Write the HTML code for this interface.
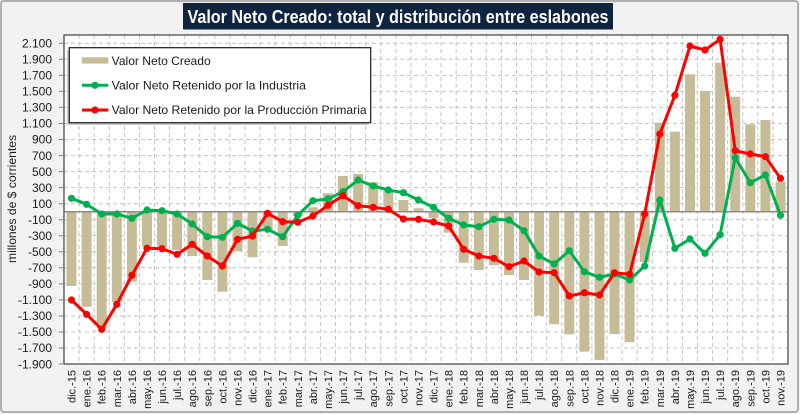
<!DOCTYPE html>
<html><head><meta charset="utf-8"><style>
html,body{margin:0;padding:0;background:#f2f2f2;}
svg{display:block;font-family:"Liberation Sans",sans-serif;}
</style></head><body>
<svg width="800" height="414" viewBox="0 0 800 414" xmlns="http://www.w3.org/2000/svg">
<rect x="1" y="1" width="797" height="411" rx="3" fill="#f2f2f2" stroke="#9a9a9a" stroke-width="1.5"/>
<!-- title -->
<rect x="183" y="3" width="430" height="26.5" fill="#0f243e"/>
<text x="398" y="23" text-anchor="middle" font-size="18" font-weight="bold" fill="#ffffff" textLength="421" lengthAdjust="spacingAndGlyphs">Valor Neto Creado: total y distribución entre eslabones</text>
<!-- plot area -->
<rect x="64" y="35" width="724" height="329" fill="#ffffff"/>
<path d="M64 43.3H788M64 59.3H788M64 75.4H788M64 91.4H788M64 107.4H788M64 123.5H788M64 139.5H788M64 155.6H788M64 171.6H788M64 187.6H788M64 203.7H788M64 219.7H788M64 235.8H788M64 251.8H788M64 267.8H788M64 283.9H788M64 299.9H788M64 316H788M64 332H788M64 348H788" stroke="#c4c4c4" stroke-width="1" stroke-dasharray="4,3" fill="none"/>
<path d="M79.08 35V364M94.17 35V364M109.25 35V364M124.33 35V364M139.42 35V364M154.5 35V364M169.58 35V364M184.66 35V364M199.75 35V364M214.83 35V364M229.91 35V364M245 35V364M260.08 35V364M275.16 35V364M290.25 35V364M305.33 35V364M320.41 35V364M335.49 35V364M350.58 35V364M365.66 35V364M380.74 35V364M395.83 35V364M410.91 35V364M425.99 35V364M441.08 35V364M456.16 35V364M471.24 35V364M486.32 35V364M501.41 35V364M516.49 35V364M531.57 35V364M546.66 35V364M561.74 35V364M576.82 35V364M591.91 35V364M606.99 35V364M622.07 35V364M637.15 35V364M652.24 35V364M667.32 35V364M682.4 35V364M697.49 35V364M712.57 35V364M727.65 35V364M742.74 35V364M757.82 35V364M772.9 35V364" stroke="#c4c4c4" stroke-width="1" stroke-dasharray="4,3" fill="none"/>
<!-- bars -->
<g fill="#c6bd98">
<rect x="66.5" y="211.7" width="10" height="74.3"/>
<rect x="81.6" y="211.7" width="10" height="95"/>
<rect x="96.7" y="211.7" width="10" height="116.3"/>
<rect x="111.8" y="211.7" width="10" height="90.3"/>
<rect x="126.9" y="211.7" width="10" height="70"/>
<rect x="142" y="211.7" width="10" height="34.8"/>
<rect x="157" y="211.7" width="10" height="35.3"/>
<rect x="172.1" y="211.7" width="10" height="38.3"/>
<rect x="187.2" y="211.7" width="10" height="44.3"/>
<rect x="202.3" y="211.7" width="10" height="68.3"/>
<rect x="217.4" y="211.7" width="10" height="80"/>
<rect x="232.5" y="211.7" width="10" height="39.3"/>
<rect x="247.5" y="211.7" width="10" height="45.6"/>
<rect x="262.6" y="211.7" width="10" height="18.3"/>
<rect x="277.7" y="211.7" width="10" height="34.3"/>
<rect x="292.8" y="211.7" width="10" height="4.3"/>
<rect x="307.9" y="207.3" width="10" height="4.4"/>
<rect x="323" y="193.3" width="10" height="18.4"/>
<rect x="338" y="176" width="10" height="35.7"/>
<rect x="353.1" y="174" width="10" height="37.7"/>
<rect x="368.2" y="182.3" width="10" height="29.4"/>
<rect x="383.3" y="191" width="10" height="20.7"/>
<rect x="398.4" y="200" width="10" height="11.7"/>
<rect x="413.5" y="208.3" width="10" height="3.4"/>
<rect x="428.5" y="211.7" width="10" height="6.6"/>
<rect x="443.6" y="211.7" width="10" height="21"/>
<rect x="458.7" y="211.7" width="10" height="51"/>
<rect x="473.8" y="211.7" width="10" height="58.3"/>
<rect x="488.9" y="211.7" width="10" height="53.6"/>
<rect x="504" y="211.7" width="10" height="63.3"/>
<rect x="519" y="211.7" width="10" height="68.3"/>
<rect x="534.1" y="211.7" width="10" height="104"/>
<rect x="549.2" y="211.7" width="10" height="112.6"/>
<rect x="564.3" y="211.7" width="10" height="122.6"/>
<rect x="579.4" y="211.7" width="10" height="140"/>
<rect x="594.5" y="211.7" width="10" height="148.3"/>
<rect x="609.5" y="211.7" width="10" height="122.3"/>
<rect x="624.6" y="211.7" width="10" height="130.6"/>
<rect x="639.7" y="211.7" width="10" height="50.3"/>
<rect x="654.8" y="122.7" width="10" height="89"/>
<rect x="669.9" y="131.7" width="10" height="80"/>
<rect x="685" y="74.3" width="10" height="137.4"/>
<rect x="700" y="91" width="10" height="120.7"/>
<rect x="715.1" y="62.7" width="10" height="149"/>
<rect x="730.2" y="96.7" width="10" height="115"/>
<rect x="745.3" y="124.3" width="10" height="87.4"/>
<rect x="760.4" y="120" width="10" height="91.7"/>
<rect x="775.5" y="181.7" width="10" height="30"/>
</g>
<path d="M64 211.7H788" stroke="#8c8c8c" stroke-width="1.5"/>
<rect x="64" y="35" width="724" height="329" fill="none" stroke="#404040" stroke-width="1.2"/>
<!-- y ticks -->
<path d="M59 43.3H64M59 59.3H64M59 75.4H64M59 91.4H64M59 107.4H64M59 123.5H64M59 139.5H64M59 155.6H64M59 171.6H64M59 187.6H64M59 203.7H64M59 219.7H64M59 235.8H64M59 251.8H64M59 267.8H64M59 283.9H64M59 299.9H64M59 316H64M59 332H64M59 348H64M59 364H64" stroke="#808080" stroke-width="1"/>
<!-- green line -->
<g stroke="#00b050" fill="#00b050">
<polyline fill="none" stroke-width="3" stroke-linejoin="round" points="71.5,198.3 86.6,204.3 101.7,214 116.8,214 131.9,218.3 147,210 162,210.7 177.1,214 192.2,224 207.3,236.7 222.4,237.3 237.5,223.3 252.5,231 267.6,229.3 282.7,236.7 297.8,215.3 312.9,200.7 328,199 343,191.7 358.1,180 373.2,186 388.3,190 403.4,192.7 418.5,200 433.5,207.3 448.6,218.3 463.7,225 478.8,226.7 493.9,219.3 509,220 524,230.7 539.1,256 554.2,264 569.3,250.7 584.4,271.7 599.5,277.3 614.5,274 629.6,280 644.7,266 659.8,200 674.9,248.3 690,239 705,253.3 720.1,234.7 735.2,157.7 750.3,182.7 765.4,175 780.5,215.3"/>
<g stroke="none">
<circle cx="71.5" cy="198.3" r="3.6"/><circle cx="86.6" cy="204.3" r="3.6"/><circle cx="101.7" cy="214" r="3.6"/><circle cx="116.8" cy="214" r="3.6"/><circle cx="131.9" cy="218.3" r="3.6"/><circle cx="147" cy="210" r="3.6"/><circle cx="162" cy="210.7" r="3.6"/><circle cx="177.1" cy="214" r="3.6"/><circle cx="192.2" cy="224" r="3.6"/><circle cx="207.3" cy="236.7" r="3.6"/><circle cx="222.4" cy="237.3" r="3.6"/><circle cx="237.5" cy="223.3" r="3.6"/><circle cx="252.5" cy="231" r="3.6"/><circle cx="267.6" cy="229.3" r="3.6"/><circle cx="282.7" cy="236.7" r="3.6"/><circle cx="297.8" cy="215.3" r="3.6"/><circle cx="312.9" cy="200.7" r="3.6"/><circle cx="328" cy="199" r="3.6"/><circle cx="343" cy="191.7" r="3.6"/><circle cx="358.1" cy="180" r="3.6"/><circle cx="373.2" cy="186" r="3.6"/><circle cx="388.3" cy="190" r="3.6"/><circle cx="403.4" cy="192.7" r="3.6"/><circle cx="418.5" cy="200" r="3.6"/><circle cx="433.5" cy="207.3" r="3.6"/><circle cx="448.6" cy="218.3" r="3.6"/><circle cx="463.7" cy="225" r="3.6"/><circle cx="478.8" cy="226.7" r="3.6"/><circle cx="493.9" cy="219.3" r="3.6"/><circle cx="509" cy="220" r="3.6"/><circle cx="524" cy="230.7" r="3.6"/><circle cx="539.1" cy="256" r="3.6"/><circle cx="554.2" cy="264" r="3.6"/><circle cx="569.3" cy="250.7" r="3.6"/><circle cx="584.4" cy="271.7" r="3.6"/><circle cx="599.5" cy="277.3" r="3.6"/><circle cx="614.5" cy="274" r="3.6"/><circle cx="629.6" cy="280" r="3.6"/><circle cx="644.7" cy="266" r="3.6"/><circle cx="659.8" cy="200" r="3.6"/><circle cx="674.9" cy="248.3" r="3.6"/><circle cx="690" cy="239" r="3.6"/><circle cx="705" cy="253.3" r="3.6"/><circle cx="720.1" cy="234.7" r="3.6"/><circle cx="735.2" cy="157.7" r="3.6"/><circle cx="750.3" cy="182.7" r="3.6"/><circle cx="765.4" cy="175" r="3.6"/><circle cx="780.5" cy="215.3" r="3.6"/>
</g></g>
<!-- red line -->
<g stroke="#ff0000" fill="#ff0000">
<polyline fill="none" stroke-width="3" stroke-linejoin="round" points="71.5,300 86.6,314.3 101.7,329.3 116.8,304.3 131.9,275.3 147,248.3 162,248.7 177.1,254.3 192.2,244.3 207.3,256 222.4,266 237.5,239.3 252.5,236 267.6,213.3 282.7,221.7 297.8,222.3 312.9,216 328,205.3 343,195.7 358.1,205.7 373.2,207.3 388.3,209.3 403.4,219 418.5,219.3 433.5,222 448.6,226 463.7,249.3 478.8,256 493.9,258.3 509,266.7 524,261 539.1,272 554.2,272.7 569.3,296 584.4,292.7 599.5,295 614.5,272.7 629.6,274.3 644.7,214 659.8,134 674.9,95.3 690,46 705,50 720.1,39.3 735.2,150.7 750.3,154 765.4,156.7 780.5,178.3"/>
<g stroke="none">
<circle cx="71.5" cy="300" r="3.6"/><circle cx="86.6" cy="314.3" r="3.6"/><circle cx="101.7" cy="329.3" r="3.6"/><circle cx="116.8" cy="304.3" r="3.6"/><circle cx="131.9" cy="275.3" r="3.6"/><circle cx="147" cy="248.3" r="3.6"/><circle cx="162" cy="248.7" r="3.6"/><circle cx="177.1" cy="254.3" r="3.6"/><circle cx="192.2" cy="244.3" r="3.6"/><circle cx="207.3" cy="256" r="3.6"/><circle cx="222.4" cy="266" r="3.6"/><circle cx="237.5" cy="239.3" r="3.6"/><circle cx="252.5" cy="236" r="3.6"/><circle cx="267.6" cy="213.3" r="3.6"/><circle cx="282.7" cy="221.7" r="3.6"/><circle cx="297.8" cy="222.3" r="3.6"/><circle cx="312.9" cy="216" r="3.6"/><circle cx="328" cy="205.3" r="3.6"/><circle cx="343" cy="195.7" r="3.6"/><circle cx="358.1" cy="205.7" r="3.6"/><circle cx="373.2" cy="207.3" r="3.6"/><circle cx="388.3" cy="209.3" r="3.6"/><circle cx="403.4" cy="219" r="3.6"/><circle cx="418.5" cy="219.3" r="3.6"/><circle cx="433.5" cy="222" r="3.6"/><circle cx="448.6" cy="226" r="3.6"/><circle cx="463.7" cy="249.3" r="3.6"/><circle cx="478.8" cy="256" r="3.6"/><circle cx="493.9" cy="258.3" r="3.6"/><circle cx="509" cy="266.7" r="3.6"/><circle cx="524" cy="261" r="3.6"/><circle cx="539.1" cy="272" r="3.6"/><circle cx="554.2" cy="272.7" r="3.6"/><circle cx="569.3" cy="296" r="3.6"/><circle cx="584.4" cy="292.7" r="3.6"/><circle cx="599.5" cy="295" r="3.6"/><circle cx="614.5" cy="272.7" r="3.6"/><circle cx="629.6" cy="274.3" r="3.6"/><circle cx="644.7" cy="214" r="3.6"/><circle cx="659.8" cy="134" r="3.6"/><circle cx="674.9" cy="95.3" r="3.6"/><circle cx="690" cy="46" r="3.6"/><circle cx="705" cy="50" r="3.6"/><circle cx="720.1" cy="39.3" r="3.6"/><circle cx="735.2" cy="150.7" r="3.6"/><circle cx="750.3" cy="154" r="3.6"/><circle cx="765.4" cy="156.7" r="3.6"/><circle cx="780.5" cy="178.3" r="3.6"/>
</g></g>
<!-- legend -->
<rect x="67" y="50" width="301.4" height="75" fill="#c8c8c8"/>
<rect x="69.3" y="47.7" width="301.4" height="75" fill="#ffffff" stroke="#1a1a1a" stroke-width="1.2"/>
<rect x="81.7" y="57.3" width="26.6" height="6.3" fill="#c6bd98"/>
<text x="111.7" y="65" font-size="12" fill="#1a1a1a" textLength="99" lengthAdjust="spacingAndGlyphs">Valor Neto Creado</text>
<path d="M82 85.3H108.3" stroke="#00b050" stroke-width="3"/>
<circle cx="95" cy="85.3" r="3.6" fill="#00b050"/>
<text x="111.7" y="89.5" font-size="12" fill="#1a1a1a" textLength="194.3" lengthAdjust="spacingAndGlyphs">Valor Neto Retenido por la Industria</text>
<path d="M82 110H108.3" stroke="#ff0000" stroke-width="3"/>
<circle cx="95" cy="110" r="3.6" fill="#ff0000"/>
<text x="111.7" y="114.2" font-size="12" fill="#1a1a1a" textLength="255" lengthAdjust="spacingAndGlyphs">Valor Neto Retenido por la Producción Primaria</text>
<!-- y labels -->
<g font-size="12" fill="#1a1a1a" text-anchor="end">
<text x="52" y="47.5">2.100</text><text x="52" y="63.5">1.900</text><text x="52" y="79.6">1.700</text><text x="52" y="95.6">1.500</text><text x="52" y="111.6">1.300</text><text x="52" y="127.7">1.100</text><text x="52" y="143.7">900</text><text x="52" y="159.8">700</text><text x="52" y="175.8">500</text><text x="52" y="191.8">300</text><text x="52" y="207.9">100</text><text x="52" y="223.9">-100</text><text x="52" y="240">-300</text><text x="52" y="256">-500</text><text x="52" y="272">-700</text><text x="52" y="288.1">-900</text><text x="52" y="304.1">-1.100</text><text x="52" y="320.2">-1.300</text><text x="52" y="336.2">-1.500</text><text x="52" y="352.2">-1.700</text><text x="52" y="368.3">-1.900</text>
</g>
<text transform="translate(16,199) rotate(-90)" text-anchor="middle" font-size="12" fill="#1a1a1a" textLength="128" lengthAdjust="spacingAndGlyphs">millones de $ corrientes</text>
<!-- x labels -->
<g font-size="11" fill="#1a1a1a" text-anchor="end">
<text transform="translate(75.5,370) rotate(-90)">dic.-15</text>
<text transform="translate(90.6,370) rotate(-90)">ene.-16</text>
<text transform="translate(105.7,370) rotate(-90)">feb.-16</text>
<text transform="translate(120.8,370) rotate(-90)">mar.-16</text>
<text transform="translate(135.9,370) rotate(-90)">abr.-16</text>
<text transform="translate(151,370) rotate(-90)">may.-16</text>
<text transform="translate(166,370) rotate(-90)">jun.-16</text>
<text transform="translate(181.1,370) rotate(-90)">jul.-16</text>
<text transform="translate(196.2,370) rotate(-90)">ago.-16</text>
<text transform="translate(211.3,370) rotate(-90)">sep.-16</text>
<text transform="translate(226.4,370) rotate(-90)">oct.-16</text>
<text transform="translate(241.5,370) rotate(-90)">nov.-16</text>
<text transform="translate(256.5,370) rotate(-90)">dic.-16</text>
<text transform="translate(271.6,370) rotate(-90)">ene.-17</text>
<text transform="translate(286.7,370) rotate(-90)">feb.-17</text>
<text transform="translate(301.8,370) rotate(-90)">mar.-17</text>
<text transform="translate(316.9,370) rotate(-90)">abr.-17</text>
<text transform="translate(332,370) rotate(-90)">may.-17</text>
<text transform="translate(347,370) rotate(-90)">jun.-17</text>
<text transform="translate(362.1,370) rotate(-90)">jul.-17</text>
<text transform="translate(377.2,370) rotate(-90)">ago.-17</text>
<text transform="translate(392.3,370) rotate(-90)">sep.-17</text>
<text transform="translate(407.4,370) rotate(-90)">oct.-17</text>
<text transform="translate(422.5,370) rotate(-90)">nov.-17</text>
<text transform="translate(437.5,370) rotate(-90)">dic.-17</text>
<text transform="translate(452.6,370) rotate(-90)">ene.-18</text>
<text transform="translate(467.7,370) rotate(-90)">feb.-18</text>
<text transform="translate(482.8,370) rotate(-90)">mar.-18</text>
<text transform="translate(497.9,370) rotate(-90)">abr.-18</text>
<text transform="translate(513,370) rotate(-90)">may.-18</text>
<text transform="translate(528,370) rotate(-90)">jun.-18</text>
<text transform="translate(543.1,370) rotate(-90)">jul.-18</text>
<text transform="translate(558.2,370) rotate(-90)">ago.-18</text>
<text transform="translate(573.3,370) rotate(-90)">sep.-18</text>
<text transform="translate(588.4,370) rotate(-90)">oct.-18</text>
<text transform="translate(603.5,370) rotate(-90)">nov.-18</text>
<text transform="translate(618.5,370) rotate(-90)">dic.-18</text>
<text transform="translate(633.6,370) rotate(-90)">ene.-19</text>
<text transform="translate(648.7,370) rotate(-90)">feb.-19</text>
<text transform="translate(663.8,370) rotate(-90)">mar.-19</text>
<text transform="translate(678.9,370) rotate(-90)">abr.-19</text>
<text transform="translate(694,370) rotate(-90)">may.-19</text>
<text transform="translate(709,370) rotate(-90)">jun.-19</text>
<text transform="translate(724.1,370) rotate(-90)">jul.-19</text>
<text transform="translate(739.2,370) rotate(-90)">ago.-19</text>
<text transform="translate(754.3,370) rotate(-90)">sep.-19</text>
<text transform="translate(769.4,370) rotate(-90)">oct.-19</text>
<text transform="translate(784.5,370) rotate(-90)">nov.-19</text>
</g>
</svg>
</body></html>
